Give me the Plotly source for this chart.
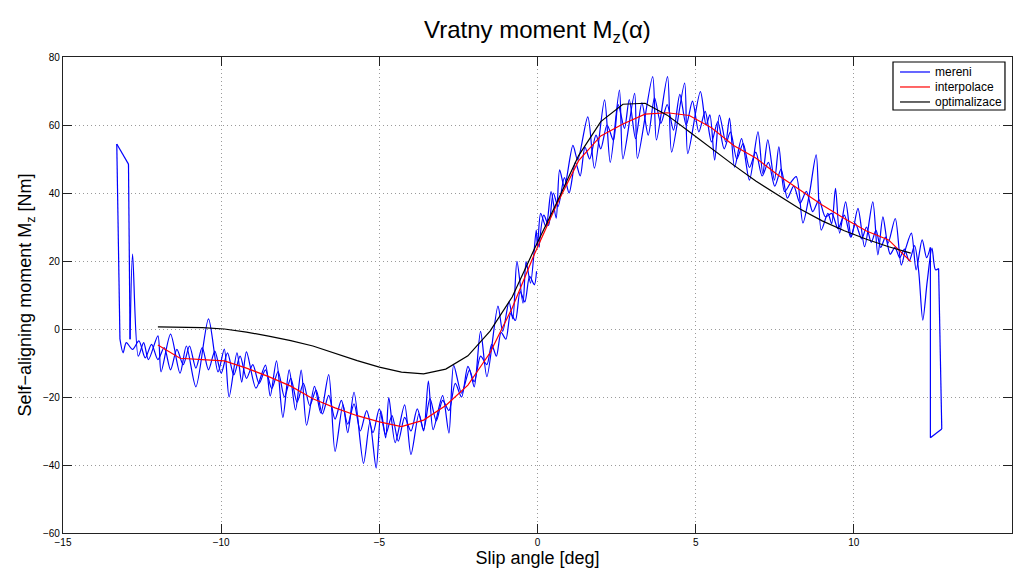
import numpy as np
import plotly.graph_objects as go

# --- measured self-aligning moment (one continuous sweep: 0 -> -13 -> +13 -> 0) ---
meas_angle = [
    # sweep towards negative slip
    -0.03, -0.1, -0.25, -0.4, -0.55, -0.7, -0.85, -1.0, -1.15, -1.3, -1.45, -1.6, -1.8, -2.0,
    -2.2, -2.4, -2.6, -2.8, -3.0, -3.2, -3.4, -3.6, -3.8, -4.0, -4.2, -4.4, -4.6, -4.8, -5.0,
    -5.2, -5.4, -5.6, -5.8, -6.0, -6.2, -6.4, -6.6, -6.8, -7.0, -7.2, -7.4, -7.6, -7.8, -8.0,
    -8.2, -8.4, -8.6, -8.8, -9.0, -9.2, -9.4, -9.6, -9.8, -10.0, -10.2, -10.4, -10.6, -10.8,
    -11.0, -11.2, -11.4, -11.6, -11.8, -12.0, -12.2, -12.4, -12.6, -12.8, -13.0, -13.1, -13.2,
    -13.3,
    # sweep towards positive slip
    -12.93, -12.88, -12.8, -12.62, -12.45, -12.3, -12.0, -11.9, -11.6, -11.3, -11.1, -10.8,
    -10.4, -10.1, -9.9, -9.75, -9.5, -9.35, -9.2, -8.9, -8.6, -8.45, -8.25, -8.05, -7.85,
    -7.65, -7.47, -7.3, -7.05, -6.85, -6.6, -6.4, -6.15, -6.0, -5.8, -5.5, -5.3, -5.1, -4.95,
    -4.8, -4.7, -4.5, -4.2, -4.0, -3.75, -3.6, -3.45, -3.3, -3.0, -2.8, -2.65, -2.4, -2.15,
    -2.0, -1.8, -1.6, -1.25, -1.1, -0.9, -0.78, -0.65, -0.46, -0.36, -0.22, -0.04, 0.0, 0.1,
    0.27, 0.43, 0.59, 0.7, 0.85, 1.12, 1.27, 1.59, 1.8, 2.12, 2.3, 2.59, 2.7, 3.07, 3.16,
    3.64, 3.76, 4.11, 4.24, 4.65, 4.75, 5.15, 5.33, 5.45, 5.6, 5.75, 5.95, 6.07, 6.23, 6.45,
    6.7, 6.97, 7.12, 7.28, 7.49, 7.63, 7.81, 8.0, 8.18, 8.39, 8.6, 8.81, 8.97, 9.18, 9.3,
    9.42, 9.55, 9.74, 9.92, 10.13, 10.34, 10.6, 10.76, 10.92, 11.08, 11.31, 11.5, 11.65,
    11.82, 11.97, 12.16, 12.3, 12.42, 12.42, 12.78,
    # return sweep towards zero
    12.68, 12.58, 12.47, 12.32, 12.18, 12.05, 11.92, 11.75, 11.6, 11.45, 11.3, 11.15, 11.0,
    10.85, 10.7, 10.55, 10.4, 10.25, 10.05, 9.9, 9.7, 9.5, 9.3, 9.1, 8.9, 8.7, 8.5, 8.3,
    8.1, 7.9, 7.7, 7.5, 7.3, 7.1, 6.9, 6.7, 6.5, 6.3, 6.1, 5.9, 5.7, 5.5, 5.3, 5.1, 4.9,
    4.7, 4.5, 4.3, 4.1, 3.9, 3.7, 3.5, 3.3, 3.1, 2.9, 2.75, 2.55, 2.4, 2.2, 2.0, 1.85,
    1.65, 1.5, 1.35, 1.2, 1.0, 0.85, 0.65, 0.5, 0.35, 0.2, 0.05,
]
meas_moment = [
    17.0, 13.0, 15.5, 8.0, 11.0, 2.5, 4.5, -3.0, -1.0, -8.0, -4.5, -10.5, -8.0, -15.5,
    -11.0, -20.0, -16.0, -24.0, -21.0, -27.0, -20.5, -29.5, -23.5, -30.0, -26.0, -33.0, -25.5, -31.0, -23.5,
    -30.5, -24.0, -30.0, -22.0, -28.0, -21.0, -26.5, -19.5, -25.0, -18.0, -22.5, -16.0, -21.5, -14.5, -20.0,
    -12.5, -17.5, -12.0, -16.0, -10.5, -14.5, -8.0, -13.5, -7.0, -13.0, -6.5, -12.0, -5.5, -11.5,
    -5.0, -10.5, -6.0, -12.0, -5.5, -9.0, -4.5, -8.5, -3.5, -6.0, -4.0, -7.0, -3.0,
    54.4,
    48.5, -3.0, 22.0, -8.0, -4.0, -9.0, -2.0, -12.6, -1.5, -13.0, -5.0, -17.0,
    3.0, -12.6, -5.9, -20.0, -7.0, -15.6, -6.7, -17.4, -10.6, -19.7, -9.4, -26.0, -12.0,
    -23.8, -12.1, -28.3, -16.9, -24.7, -13.4, -36.0, -22.2, -30.5, -18.6, -39.5, -27.5, -40.9, -24.1,
    -32.0, -20.2, -33.4, -22.3, -36.9, -25.0, -30.0, -15.3, -29.6, -19.6, -30.6, -10.7, -18.9, -12.0,
    -17.0, -0.7, -14.0, 6.7, -0.7, 8.0, 3.0, 19.9, 7.6, 19.8, 13.5, 29.1, 24.2, 34.0,
    30.0, 40.4, 32.6, 46.8, 41.8, 54.0, 49.7, 62.4, 47.3, 67.4, 49.0, 70.3, 50.0, 69.3, 50.2,
    74.2, 55.6, 74.2, 52.0, 72.3, 51.6, 69.8, 60.0, 63.0, 49.7, 62.9, 55.0, 62.0, 47.6, 56.0,
    43.8, 58.0, 45.8, 55.6, 43.8, 53.6, 40.4, 43.0, 44.8, 31.2, 40.0, 51.2, 29.1, 34.0, 31.0,
    41.4, 28.2, 37.4, 27.1, 35.5, 24.2, 37.4, 21.8, 33.0, 25.2, 32.5, 18.8, 24.0,
    28.2, 17.4, 26.2, 21.0, 24.0, -32.0, -29.4,
    17.8, 17.4, 23.8, 14.0, 2.6, 17.0, 24.5, 20.0, 23.5, 21.0, 24.0, 22.0, 27.0,
    24.0, 29.0, 25.5, 30.0, 26.5, 31.0, 27.0, 33.5, 29.5, 34.0, 33.0, 38.0, 34.5, 40.5, 37.0,
    42.0, 38.5, 47.0, 42.0, 49.0, 45.0, 52.0, 47.5, 54.5, 50.0, 58.0, 53.0, 61.0, 55.0, 64.0, 58.0, 67.0,
    60.0, 69.0, 58.5, 66.0, 60.5, 68.0, 57.0, 66.5, 56.0, 67.5, 59.0, 66.0, 55.5, 60.0, 53.0, 57.0,
    50.0, 53.5, 45.0, 49.0, 40.0, 44.5, 36.0, 40.0, 30.5, 33.5, 24.0,
]
assert len(meas_angle) == len(meas_moment)

# --- interpolated and optimised model curves on a common slip-angle grid ---
model_angle = np.round(np.arange(-12.0, 11.85, 0.7), 1)
interp_moment = [
    -4.7, -8.6, -9.0, -9.4, -11.5, -14.0, -16.8, -20.5, -23.2, -25.5, -27.3, -28.7,
    -26.8, -22.5, -16.5, -7.0, 6.2, 22.0, 36.5, 49.5, 56.8, 60.3, 63.2, 63.6, 62.8,
    59.2, 54.0, 50.3, 45.3, 41.0, 36.5, 32.5, 28.8, 26.2, 19.8,
]
optim_moment = [
    0.6, 0.6, 0.4, 0.0, -0.9, -2.1, -3.4, -5.0, -7.2, -9.3, -11.2, -12.7,
    -13.2, -11.8, -7.9, -0.6, 9.4, 23.5, 37.0, 51.0, 61.0, 66.1, 66.4, 62.9, 58.0,
    53.0, 48.2, 43.5, 39.5, 35.3, 31.8, 28.9, 26.4, 24.2, 22.3,
]
assert len(model_angle) == len(interp_moment) == len(optim_moment)

x_ticks = [-15, -10, -5, 0, 5, 10, 15]
y_ticks = [-60, -40, -20, 0, 20, 40, 60, 80]

series_names = ["mereni", "interpolace", "optimalizace"]
series_colors = ["#0000ff", "#ff0000", "#000000"]

FONT = "Liberation Sans, Arial, Helvetica, sans-serif"
LW = 1.2

fig = go.Figure()

# Measured signal: smooth runs drawn as splines, sensor glitches (large jumps) as straight segments
JUMP = 30.0
runs = []
start = 0
for i in range(len(meas_moment) - 1):
    if abs(meas_moment[i + 1] - meas_moment[i]) > JUMP:
        runs.append(("spline", start, i))
        runs.append(("linear", i, i + 1))
        start = i + 1
runs.append(("spline", start, len(meas_moment) - 1))
for shape, a, b in runs:
    if b <= a:
        continue
    fig.add_trace(go.Scatter(
        x=meas_angle[a:b + 1], y=meas_moment[a:b + 1], mode="lines",
        name=series_names[0], legendgroup="meas", showlegend=False,
        line=dict(color=series_colors[0], width=LW, shape=shape, smoothing=0.8),
    ))

fig.add_trace(go.Scatter(
    x=model_angle, y=interp_moment, mode="lines", name=series_names[1], showlegend=False,
    line=dict(color=series_colors[1], width=LW),
))
fig.add_trace(go.Scatter(
    x=model_angle, y=optim_moment, mode="lines", name=series_names[2], showlegend=False,
    line=dict(color=series_colors[2], width=LW),
))

axis_common = dict(
    showgrid=True, gridcolor="#9a9a9a", gridwidth=1, griddash="1px,3px",
    showline=True, linecolor="#222222", linewidth=1.2, mirror="ticks",
    ticks="inside", ticklen=9, tickwidth=1, tickcolor="#222222",
    zeroline=False, tickfont=dict(family=FONT, size=10, color="#000000"),
)

fig.update_xaxes(
    range=[-15, 15], tickvals=x_ticks, **axis_common,
    title=dict(text="Slip angle [deg]", font=dict(family=FONT, size=18, color="#000"), standoff=1),
)
fig.update_yaxes(
    range=[-60, 80], tickvals=y_ticks, **axis_common,
    title=dict(text="Self\u2212aligning moment M<sub>z</sub> [Nm]",
               font=dict(family=FONT, size=18, color="#000"), standoff=6),
)

# Boxed legend in the upper-right corner of the axes
lg_x0, lg_x1 = 0.8746, 0.9926
lg_y0, lg_y1 = 0.8887, 0.9895
row_y = [0.9685, 0.937, 0.9055]
sample_x0, sample_x1, text_x = 0.882, 0.9136, 0.9168
shapes = [dict(type="rect", xref="paper", yref="paper", x0=lg_x0, x1=lg_x1, y0=lg_y0, y1=lg_y1,
               line=dict(color="#000000", width=1.2), fillcolor="white", layer="above")]
annotations = []
for name, color, yy in zip(series_names, series_colors, row_y):
    shapes.append(dict(type="line", xref="paper", yref="paper", x0=sample_x0, x1=sample_x1,
                       y0=yy, y1=yy, line=dict(color=color, width=LW), layer="above"))
    annotations.append(dict(text=name, xref="paper", yref="paper", x=text_x, y=yy,
                            xanchor="left", yanchor="middle", showarrow=False,
                            font=dict(family=FONT, size=12, color="#000")))

fig.update_layout(
    width=1014, height=568,
    margin=dict(l=63, r=2, t=57, b=35),
    paper_bgcolor="white", plot_bgcolor="white",
    title=dict(text="Vratny moment M<sub>z</sub>(\u03b1)", x=0.53, xanchor="center",
               y=0.948, yanchor="middle", font=dict(family=FONT, size=24, color="#000")),
    shapes=shapes, annotations=annotations,
    showlegend=False,
)

fig.write_html("out.html")
